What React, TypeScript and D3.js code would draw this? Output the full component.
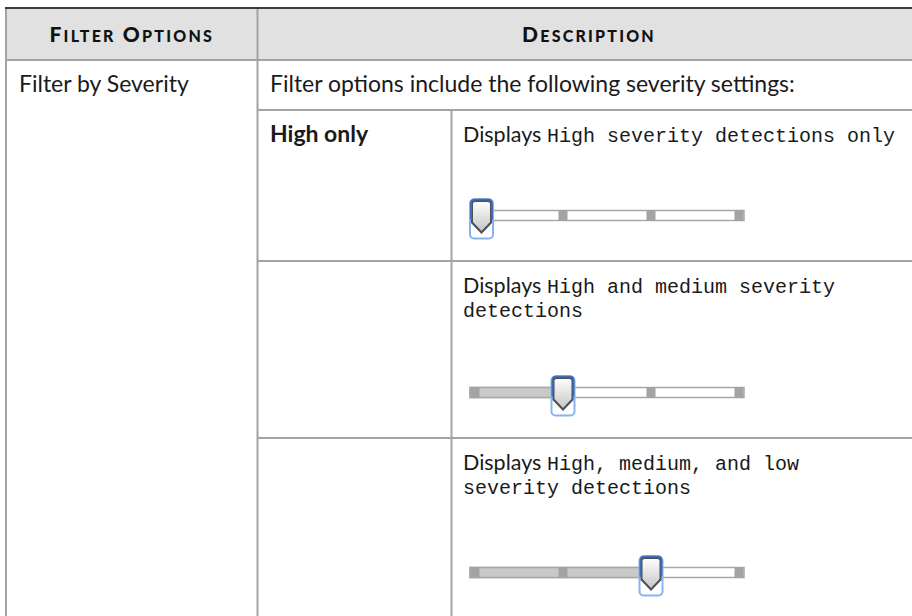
import { useRef, useEffect } from 'react';
import * as d3 from 'd3';

// table content
const headerLabels = ['Filter Options', 'Description'];
const filterName = 'Filter by Severity';
const introText = 'Filter options include the following severity settings:';
const settingNames = ['High only', '', ''];
const settingPrefix = 'Displays';
const settingLines = [
  ['High severity detections only'],
  ['High and medium severity', 'detections'],
  ['High, medium, and low', 'severity detections'],
];
// slider: 4 stops, thumb sits on stop index
const sliderStops = [0, 1, 2, 3];
const sliderValues = [0, 1, 2];

const SANS = 'Lato, "Noto Sans", sans-serif';
const MONO = '"Liberation Mono", "DejaVu Sans Mono", monospace';

export default function App() {
  const svgRef = useRef(null);

  useEffect(() => {
    const w = 912;
    const h = 616;
    const svg = d3.select(svgRef.current);
    svg.selectAll('*').remove();
    svg.attr('width', w).attr('height', h);

    const left = 6;
    const top = 8;
    const col1 = 257.5;
    const col2 = 451.5;
    const headBottom = 60;
    const introBottom = 110;
    const rowTops = [110, 261, 438];
    const lineColor = '#a3a3a3';

    // header
    svg.append('rect').attr('x', left).attr('y', top).attr('width', w - left).attr('height', headBottom - top).attr('fill', '#e1e1e1');

    const hline = (y, x0, color = lineColor, sw = 2) =>
      svg.append('line').attr('x1', x0).attr('x2', w).attr('y1', y).attr('y2', y).attr('stroke', color).attr('stroke-width', sw);
    const vline = (x, y0, color = lineColor) =>
      svg.append('line').attr('x1', x).attr('x2', x).attr('y1', y0).attr('y2', h).attr('stroke', color).attr('stroke-width', 2);

    hline(headBottom, left);
    hline(introBottom, col1);
    rowTops.slice(1).forEach((y) => hline(y, col1));
    vline(left, top);
    vline(col1, top);
    vline(col2, introBottom);
    hline(top, left - 1, '#3a3a3a', 2);

    // small caps header text
    const headCenters = [(left + col1) / 2, 589];
    headerLabels.forEach((label, i) => {
      const t = svg
        .append('text')
        .attr('x', headCenters[i])
        .attr('y', 42)
        .attr('text-anchor', 'middle')
        .attr('font-family', SANS)
        .attr('font-weight', 900)
        .attr('letter-spacing', 2.2)
        .attr('fill', '#111');
      label.split(' ').forEach((word, j) => {
        t.append('tspan').attr('font-size', 21).text((j > 0 ? ' ' : '') + word[0].toUpperCase());
        t.append('tspan').attr('font-size', 16).text(word.slice(1).toUpperCase());
      });
    });

    const body = (x, y, txt, fam = SANS, weight = 400, size = 23) =>
      svg
        .append('text')
        .attr('x', x)
        .attr('y', y)
        .attr('font-family', fam)
        .attr('font-size', size)
        .attr('font-weight', weight)
        .attr('fill', '#1a1a1a')
        .text(txt);

    body(19, 92, filterName);
    body(270, 92, introText);

    const lineH = 24;
    const xStop = d3.scaleLinear().domain([0, 3]).range([475, 739]);
    const trackL = 470;
    const trackR = 744;
    const thumbW = 23;

    const defs = svg.append('defs');
    const grad = defs.append('linearGradient').attr('id', 'thumbFill').attr('x1', 0).attr('x2', 0).attr('y1', 0).attr('y2', 1);
    grad.append('stop').attr('offset', '0%').attr('stop-color', '#ffffff');
    grad.append('stop').attr('offset', '100%').attr('stop-color', '#c4c4c4');

    const sliderGap = [74, 76, 79];

    rowTops.forEach((rowTop, i) => {
      const base = rowTop + 31.5;
      body(270, base, settingNames[i], SANS, 700);
      body(463, base, settingPrefix, SANS, 400, 21.5);
      settingLines[i].forEach((ln, k) => {
        body(k === 0 ? 547 : 463, base + k * lineH, ln, MONO, 400, 20);
      });

      // slider
      const cy = base + (settingLines[i].length - 1) * lineH + sliderGap[i];
      const thumbX = Math.max(xStop(sliderValues[i]), trackL + thumbW / 2);
      const g = svg.append('g');
      g.append('rect').attr('x', trackL).attr('y', cy - 5).attr('width', trackR - trackL).attr('height', 10)
        .attr('fill', '#fff').attr('stroke', '#a8a8a8').attr('stroke-width', 1.5);
      g.append('rect').attr('x', trackL).attr('y', cy - 5).attr('width', thumbX - trackL).attr('height', 10)
        .attr('fill', '#c9c9c9').attr('stroke', '#a8a8a8').attr('stroke-width', 1.5);
      g.selectAll('rect.stop')
        .data(sliderStops)
        .enter()
        .append('rect')
        .attr('class', 'stop')
        .attr('x', (d) => Math.min(Math.max(xStop(d) - 4.5, trackL), trackR - 9))
        .attr('y', cy - 5.5)
        .attr('width', 9)
        .attr('height', 11)
        .attr('fill', '#a3a3a3');

      // thumb
      const tx = thumbX - thumbW / 2;
      const ty = cy - 16;
      g.append('rect').attr('x', tx).attr('y', ty).attr('width', thumbW).attr('height', 39).attr('rx', 4)
        .attr('fill', '#fff').attr('stroke', '#86b4f2').attr('stroke-width', 2);
      const p = d3.path();
      p.moveTo(tx + 2, ty + 4);
      p.quadraticCurveTo(tx + 2, ty + 1.5, tx + 5, ty + 1.5);
      p.lineTo(tx + thumbW - 5, ty + 1.5);
      p.quadraticCurveTo(tx + thumbW - 2, ty + 1.5, tx + thumbW - 2, ty + 4);
      p.lineTo(tx + thumbW - 2, ty + 23);
      p.lineTo(thumbX, ty + 33);
      p.lineTo(tx + 2, ty + 23);
      p.closePath();
      g.append('path').attr('d', p.toString()).attr('fill', 'url(#thumbFill)').attr('stroke', '#4a4f5a').attr('stroke-width', 2);
      g.append('path')
        .attr('d', `M${tx + 1},${ty + 20} L${tx + 1},${ty + 4} Q${tx + 1},${ty} ${tx + 5},${ty} L${tx + thumbW - 5},${ty} Q${tx + thumbW - 1},${ty} ${tx + thumbW - 1},${ty + 4} L${tx + thumbW - 1},${ty + 20}`)
        .attr('fill', 'none')
        .attr('stroke', '#3d6cb8')
        .attr('stroke-width', 2);
    });
  }, []);

  return <svg ref={svgRef} style={{ position: 'absolute', left: 0, top: 0, display: 'block' }}></svg>;
}
